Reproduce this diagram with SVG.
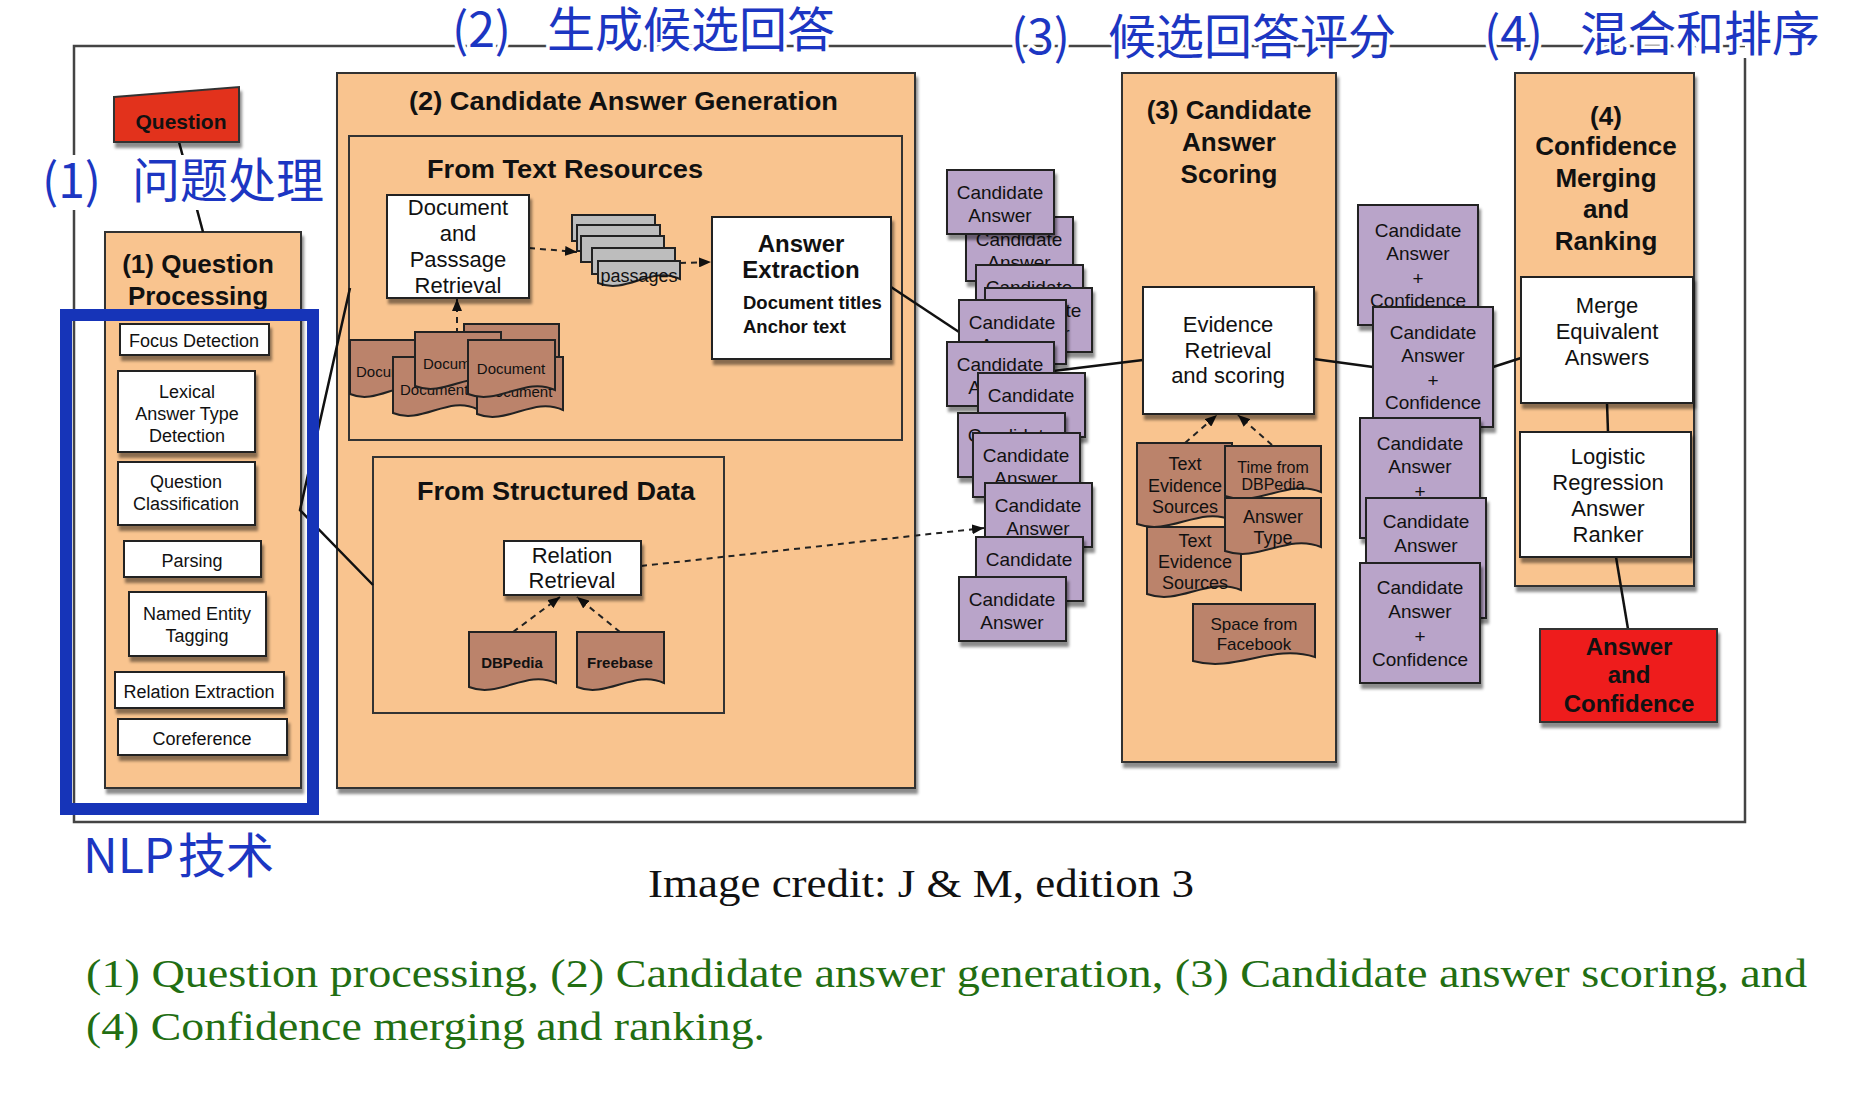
<svg xmlns="http://www.w3.org/2000/svg" width="1874" height="1112" viewBox="0 0 1874 1112">
<defs>
<filter id="sh" x="-10%" y="-10%" width="130%" height="140%"><feDropShadow dx="2" dy="5" stdDeviation="1.5" flood-color="#000" flood-opacity="0.45"/></filter>
<marker id="ah" viewBox="0 0 12 10" refX="12" refY="5" markerWidth="12" markerHeight="10" markerUnits="userSpaceOnUse" orient="auto"><path d="M0,0 L12,5 L0,10 z" fill="#111"/></marker>
<style>
.box{fill:#fff;stroke:#222;stroke-width:2;filter:url(#sh)}
.org{fill:#f9c48f;stroke:#333;stroke-width:2;filter:url(#sh)}
.in{fill:#f9c48f;stroke:#333;stroke-width:2}
.cand{fill:#b9a4c9;stroke:#222;stroke-width:2;filter:url(#sh)}
.doc{fill:#bb836b;stroke:#222;stroke-width:2}
.pass{fill:#bdbdbd;stroke:#222;stroke-width:2}
.t{font-family:"Liberation Sans",Arial,Helvetica,sans-serif;fill:#111;text-anchor:middle}
.s18{font-size:18px}
.s19{font-size:19px}
.s22{font-size:22px}
.b{font-weight:bold}
.h{font-size:26px;font-weight:bold}
.conn line,.conn polyline{stroke:#111;stroke-width:2.5;fill:none}
.conn .d{stroke:#222;stroke-width:2;stroke-dasharray:6 5;marker-end:url(#ah)}
.cn{font-family:"Noto Sans CJK SC","Noto Sans CJK JP",sans-serif;fill:#1c36c2;font-size:48px;paint-order:stroke;stroke:#fff;stroke-width:7px}
.fr{stroke:#444;stroke-width:2.5;fill:none}
.ser{font-family:"Liberation Serif","Times New Roman",serif}
</style>
</defs>
<rect x="0" y="0" width="1874" height="1112" fill="#fff"/>

<g id="frame">
<path class="fr" d="M1745,46 H74 V822 H1745 V58"/>
</g>

<g id="containers">
<g id="qp"><rect class="org" x="105" y="232" width="196" height="556"/>
<text class="t h" x="198" y="273">(1) Question</text><text class="t h" x="198" y="305">Processing</text></g>
<g id="cag"><rect class="org" x="337" y="73" width="578" height="715"/>
<text class="t h" x="409" y="110" style="text-anchor:start" textLength="429" lengthAdjust="spacingAndGlyphs">(2) Candidate Answer Generation</text></g>
<g id="ftr"><rect class="in" x="349" y="136" width="553" height="304"/>
<text class="t h" x="427" y="178" style="text-anchor:start" textLength="276" lengthAdjust="spacingAndGlyphs">From Text Resources</text></g>
<g id="fsd"><rect class="in" x="373" y="457" width="351" height="256"/>
<text class="t h" x="417" y="500" style="text-anchor:start" textLength="278" lengthAdjust="spacingAndGlyphs">From Structured Data</text></g>
<g id="cas"><rect class="org" x="1122" y="73" width="214" height="689"/>
<text class="t h" x="1229" y="119">(3) Candidate</text><text class="t h" x="1229" y="151">Answer</text><text class="t h" x="1229" y="183">Scoring</text></g>
<g id="cmr"><rect class="org" x="1515" y="73" width="179" height="513"/>
<text class="t h" x="1606" y="125">(4)</text><text class="t h" x="1606" y="155">Confidence</text><text class="t h" x="1606" y="187">Merging</text><text class="t h" x="1606" y="218">and</text><text class="t h" x="1606" y="250">Ranking</text></g>
</g>

<g id="connectors" class="conn">
<line x1="179" y1="142" x2="203" y2="232"/>
<polyline points="350,288 300,510 373,585"/>
<line x1="891" y1="287" x2="959" y2="332"/>
<line x1="1053" y1="371" x2="1143" y2="360"/>
<line x1="1314" y1="359" x2="1373" y2="367"/>
<line x1="1493" y1="367" x2="1521" y2="358"/>
<line x1="1607" y1="403" x2="1608" y2="432"/>
<line x1="1616" y1="557" x2="1628" y2="629"/>
<line class="d" x1="457" y1="334" x2="457" y2="299"/>
<line class="d" x1="529" y1="248" x2="577" y2="252"/>
<line class="d" x1="680" y1="263" x2="711" y2="262"/>
<line class="d" x1="641" y1="566" x2="984" y2="528"/>
<line class="d" x1="513" y1="632" x2="560" y2="597"/>
<line class="d" x1="620" y1="632" x2="577" y2="597"/>
<line class="d" x1="1185" y1="443" x2="1217" y2="415"/>
<line class="d" x1="1272" y1="445" x2="1238" y2="415"/>
</g>

<g id="question"><polygon points="114,97 239,87 239,142 114,142" fill="#e2301f" stroke="#333" stroke-width="2" filter="url(#sh)"/>
<text class="t b" x="181" y="129" font-size="21">Question</text></g>

<g id="focus"><rect class="box" x="120" y="324" width="149" height="31"/><text class="t s18" x="194" y="347">Focus Detection</text></g>
<g id="lexical"><rect class="box" x="118" y="371" width="137" height="81"/><text class="t s18" x="187" y="398">Lexical</text><text class="t s18" x="187" y="420">Answer Type</text><text class="t s18" x="187" y="442">Detection</text></g>
<g id="qclass"><rect class="box" x="118" y="462" width="137" height="63"/><text class="t s18" x="186" y="488">Question</text><text class="t s18" x="186" y="510">Classification</text></g>
<g id="parsing"><rect class="box" x="124" y="541" width="137" height="36"/><text class="t s18" x="192" y="567">Parsing</text></g>
<g id="ner"><rect class="box" x="129" y="592" width="137" height="64"/><text class="t s18" x="197" y="620">Named Entity</text><text class="t s18" x="197" y="642">Tagging</text></g>
<g id="relext"><rect class="box" x="115" y="672" width="169" height="36"/><text class="t s18" x="199" y="698">Relation Extraction</text></g>
<g id="coref"><rect class="box" x="118" y="719" width="169" height="36"/><text class="t s18" x="202" y="745">Coreference</text></g>

<g id="dpr"><rect class="box" x="387" y="195" width="142" height="103"/>
<text class="t s22" x="458" y="215">Document</text><text class="t s22" x="458" y="241">and</text><text class="t s22" x="458" y="267">Passsage</text><text class="t s22" x="458" y="293">Retrieval</text></g>

<g id="passages">
<rect class="pass" x="572" y="215" width="83" height="26"/>
<rect class="pass" x="577" y="225" width="83" height="26"/>
<rect class="pass" x="581" y="236" width="83" height="26"/>
<rect class="pass" x="592" y="248" width="83" height="26"/>
<path class="pass" d="M598,261 H680 V279 C651,265 627,295 598,283 Z"/>
<text class="t s18" x="639" y="282">passages</text>
</g>

<g id="documents">
<path class="doc" d="M464,324 H559 V369 C526,355 497,385 464,373 Z"/>
<path class="doc" d="M350,340 H430 V390 C402,376 378,406 350,394 Z"/><text class="t" x="356" y="377" style="text-anchor:start" font-size="15">Document</text>
<path class="doc" d="M393,357 H477 V409 C448,395 422,425 393,413 Z"/><text class="t" x="400" y="395" style="text-anchor:start" font-size="15">Document</text>
<path class="doc" d="M477,357 H563 V410 C533,396 507,426 477,414 Z"/><text class="t" x="484" y="397" style="text-anchor:start" font-size="15">Document</text>
<path class="doc" d="M415,332 H501 V382 C471,368 445,398 415,386 Z"/><text class="t" x="423" y="369" style="text-anchor:start" font-size="15">Document</text>
<path class="doc" d="M468,340 H555 V390 C525,376 498,406 468,394 Z"/><text class="t" x="511" y="374" font-size="15">Document</text>
</g>

<g id="answer-extraction"><rect class="box" x="712" y="217" width="179" height="142"/>
<text class="t b" x="801" y="252" font-size="24">Answer</text><text class="t b" x="801" y="278" font-size="24">Extraction</text>
<text class="t b" x="743" y="309" font-size="18.5" style="text-anchor:start">Document titles</text><text class="t b" x="743" y="333" font-size="18.5" style="text-anchor:start">Anchor text</text></g>

<g id="relation-retrieval"><rect class="box" x="504" y="541" width="137" height="54"/><text class="t s22" x="572" y="563">Relation</text><text class="t s22" x="572" y="588">Retrieval</text></g>
<g id="dbpedia"><path class="doc" d="M469,632 H556 V683 C526,669 499,699 469,687 Z"/><text class="t b" x="512" y="668" font-size="15">DBPedia</text></g>
<g id="freebase"><path class="doc" d="M577,632 H664 V683 C634,669 607,699 577,687 Z"/><text class="t b" x="620" y="668" font-size="15">Freebase</text></g>

<g id="candidates" class="t s19">
<g><rect class="cand" x="966" y="217" width="107" height="64"/><text x="1019" y="246">Candidate</text><text x="1019" y="269">Answer</text></g>
<g><rect class="cand" x="947" y="170" width="107" height="64"/><text x="1000" y="199">Candidate</text><text x="1000" y="222">Answer</text></g>
<g><rect class="cand" x="976" y="265" width="107" height="64"/><text x="1029" y="294">Candidate</text><text x="1029" y="317">Answer</text></g>
<g><rect class="cand" x="985" y="288" width="107" height="64"/><text x="1038" y="317">Candidate</text><text x="1038" y="340">Answer</text></g>
<g><rect class="cand" x="959" y="300" width="107" height="64"/><text x="1012" y="329">Candidate</text><text x="1012" y="352">Answer</text></g>
<g><rect class="cand" x="947" y="342" width="107" height="64"/><text x="1000" y="371">Candidate</text><text x="1000" y="394">Answer</text></g>
<g><rect class="cand" x="978" y="373" width="107" height="64"/><text x="1031" y="402">Candidate</text><text x="1031" y="425">Answer</text></g>
<g><rect class="cand" x="958" y="413" width="107" height="64"/><text x="1011" y="442">Candidate</text><text x="1011" y="465">Answer</text></g>
<g><rect class="cand" x="973" y="433" width="107" height="64"/><text x="1026" y="462">Candidate</text><text x="1026" y="485">Answer</text></g>
<g><rect class="cand" x="985" y="483" width="107" height="64"/><text x="1038" y="512">Candidate</text><text x="1038" y="535">Answer</text></g>
<g><rect class="cand" x="976" y="537" width="107" height="64"/><text x="1029" y="566">Candidate</text><text x="1029" y="589">Answer</text></g>
<g><rect class="cand" x="959" y="577" width="107" height="64"/><text x="1012" y="606">Candidate</text><text x="1012" y="629">Answer</text></g>
</g>

<g id="evidence-retrieval"><rect class="box" x="1143" y="287" width="171" height="127"/>
<text class="t s22" x="1228" y="332">Evidence</text><text class="t s22" x="1228" y="358">Retrieval</text><text class="t s22" x="1228" y="383">and scoring</text></g>

<g id="evidence-sources" class="t">
<path class="doc" d="M1137,443 H1232 V520 C1199,506 1170,536 1137,524 Z"/><text class="s18" x="1185" y="470">Text</text><text class="s18" x="1185" y="492">Evidence</text><text class="s18" x="1185" y="513">Sources</text>
<path class="doc" d="M1147,527 H1241 V590 C1208,576 1180,606 1147,594 Z"/><text class="s18" x="1195" y="547">Text</text><text class="s18" x="1195" y="568">Evidence</text><text class="s18" x="1195" y="589">Sources</text>
<path class="doc" d="M1225,446 H1321 V492 C1287,478 1259,508 1225,496 Z"/><text x="1273" y="473" font-size="16">Time from</text><text x="1273" y="490" font-size="16">DBPedia</text>
<path class="doc" d="M1225,498 H1321 V547 C1287,533 1259,563 1225,551 Z"/><text class="s18" x="1273" y="523">Answer</text><text class="s18" x="1273" y="544">Type</text>
<path class="doc" d="M1193,604 H1315 V657 C1272,643 1236,673 1193,661 Z"/><text x="1254" y="630" font-size="17">Space from</text><text x="1254" y="650" font-size="17">Facebook</text>
</g>

<g id="confidence-candidates" class="t s19">
<g><rect class="cand" x="1358" y="205" width="120" height="120"/><text x="1418" y="237">Candidate</text><text x="1418" y="260">Answer</text><text x="1418" y="285">+</text><text x="1418" y="307">Confidence</text></g>
<g><rect class="cand" x="1373" y="307" width="120" height="120"/><text x="1433" y="339">Candidate</text><text x="1433" y="362">Answer</text><text x="1433" y="387">+</text><text x="1433" y="409">Confidence</text></g>
<g><rect class="cand" x="1360" y="418" width="120" height="120"/><text x="1420" y="450">Candidate</text><text x="1420" y="473">Answer</text><text x="1420" y="498">+</text><text x="1420" y="520">Confidence</text></g>
<g><rect class="cand" x="1366" y="498" width="120" height="120"/><text x="1426" y="528">Candidate</text><text x="1426" y="552">Answer</text><text x="1426" y="577">+</text><text x="1426" y="599">Confidence</text></g>
<g><rect class="cand" x="1360" y="563" width="120" height="120"/><text x="1420" y="594">Candidate</text><text x="1420" y="618">Answer</text><text x="1420" y="643">+</text><text x="1420" y="666">Confidence</text></g>
</g>

<g id="merge"><rect class="box" x="1521" y="277" width="172" height="126"/><text class="t s22" x="1607" y="313">Merge</text><text class="t s22" x="1607" y="339">Equivalent</text><text class="t s22" x="1607" y="365">Answers</text></g>
<g id="ranker"><rect class="box" x="1520" y="432" width="171" height="125"/><text class="t s22" x="1608" y="464">Logistic</text><text class="t s22" x="1608" y="490">Regression</text><text class="t s22" x="1608" y="516">Answer</text><text class="t s22" x="1608" y="542">Ranker</text></g>
<g id="answer"><rect x="1540" y="629" width="177" height="93" fill="#ee1b1b" stroke="#333" stroke-width="2" filter="url(#sh)"/>
<text class="t b" x="1629" y="655" font-size="24">Answer</text><text class="t b" x="1629" y="683" font-size="24">and</text><text class="t b" x="1629" y="712" font-size="24">Confidence</text></g>

<g id="stage-labels">
<rect x="38" y="155" width="288" height="55" fill="#fff"/>
<text class="cn" y="198"><tspan x="42">(1)</tspan><tspan x="132">问题处理</tspan></text>
<text class="cn" y="47"><tspan x="452">(2)</tspan><tspan x="547">生成候选回答</tspan></text>
<text class="cn" y="54"><tspan x="1011">(3)</tspan><tspan x="1108">候选回答评分</tspan></text>
<text class="cn" y="51"><tspan x="1484">(4)</tspan><tspan x="1580">混合和排序</tspan></text>
</g>

<g id="nlp">
<rect x="66" y="315" width="247" height="494" fill="none" stroke="#1634b8" stroke-width="12"/>
<text class="cn" y="873" font-size="47" style="stroke:none"><tspan x="83">NLP</tspan><tspan x="178">技术</tspan></text>
</g>

<g id="captions">
<text class="ser" x="648" y="897" font-size="41" fill="#111" textLength="546" lengthAdjust="spacingAndGlyphs">Image credit: J &amp; M, edition 3</text>
<text class="ser" x="86" y="987" font-size="40" fill="#226e12" textLength="1721" lengthAdjust="spacingAndGlyphs">(1) Question processing, (2) Candidate answer generation, (3) Candidate answer scoring, and</text>
<text class="ser" x="86" y="1040" font-size="40" fill="#226e12" textLength="679" lengthAdjust="spacingAndGlyphs">(4) Confidence merging and ranking.</text>
</g>
</svg>
